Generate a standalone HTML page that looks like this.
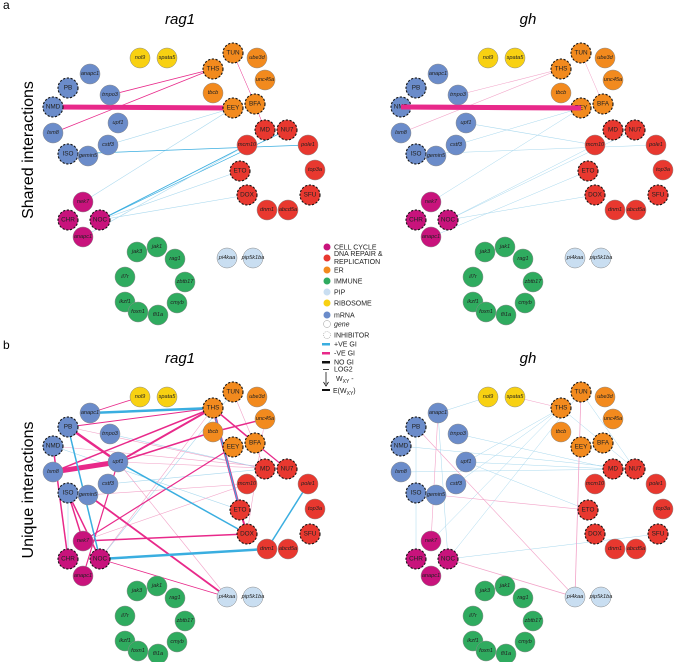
<!DOCTYPE html>
<html><head><meta charset="utf-8"><style>
html,body{margin:0;padding:0;background:#fff}
svg{display:block;font-family:"Liberation Sans",sans-serif}
.n circle{stroke:#8a8a8a;stroke-width:0.5}
.n .i{stroke:#111;stroke-width:1.1;stroke-dasharray:2.2 1.6}
.n text{font-size:5.6px;text-anchor:middle;dominant-baseline:central;fill:#222;font-style:italic}
.n text.u{font-style:normal;font-size:6.4px}
.C{fill:#c8137c}.R{fill:#e8382f}.O{fill:#f28a1e}.G{fill:#2fab5f}.P{fill:#c9def1}.Y{fill:#f8d112}.B{fill:#6b8cca}
.lg text{font-size:7px;fill:#222}
.pk{stroke:#e8298a;fill:none}.bl{stroke:#3aaee0;fill:none}.lp{stroke:#f2a3c8;fill:none}.lb{stroke:#a8d8ee;fill:none}
</style></head><body>
<svg width="674" height="662" viewBox="0 0 674 662">
<defs>
<g id="nodes" class="n">
<circle class="Y" cx="140" cy="58" r="10"/><text x="140" y="58">nol9</text>
<circle class="Y" cx="167" cy="58" r="10"/><text x="167" y="58">spata5</text>
<circle class="O i" cx="233" cy="53" r="10"/><text class="u" x="233" y="53">TUN</text>
<circle class="O" cx="257" cy="58" r="10"/><text x="257" y="58">ube3d</text>
<circle class="O i" cx="213" cy="69" r="10"/><text class="u" x="213" y="69">THS</text>
<circle class="O" cx="265" cy="80" r="10"/><text x="265" y="80">unc45a</text>
<circle class="O" cx="213" cy="93" r="10"/><text x="213" y="93">tbcb</text>
<circle class="O i" cx="255" cy="104" r="10"/><text class="u" x="255" y="104">BFA</text>
<circle class="O i" cx="233" cy="108" r="10"/><text class="u" x="233" y="108">EEY</text>
<circle class="B i" cx="68" cy="88" r="10"/><text class="u" x="68" y="88">PB</text>
<circle class="B" cx="90" cy="74" r="10"/><text x="90" y="74">anapc1</text>
<circle class="B" cx="110" cy="95" r="10"/><text x="110" y="95">trnpo3</text>
<circle class="B i" cx="53" cy="107" r="10"/><text class="u" x="53" y="107">NMD</text>
<circle class="B" cx="118" cy="123" r="10"/><text x="118" y="123">upf1</text>
<circle class="B" cx="53" cy="133" r="10"/><text x="53" y="133">lsm8</text>
<circle class="B" cx="108" cy="145" r="10"/><text x="108" y="145">cstf3</text>
<circle class="B i" cx="68" cy="154" r="10"/><text class="u" x="68" y="154">ISO</text>
<circle class="B" cx="88" cy="156" r="10"/><text x="88" y="156">gemin5</text>
<circle class="R i" cx="265" cy="130" r="10"/><text class="u" x="265" y="130">MD</text>
<circle class="R i" cx="287" cy="130" r="10"/><text class="u" x="287" y="130">NU7</text>
<circle class="R" cx="247" cy="145" r="10"/><text x="247" y="145">mcm10</text>
<circle class="R" cx="308" cy="145" r="10"/><text x="308" y="145">pole1</text>
<circle class="R i" cx="240" cy="171" r="10"/><text class="u" x="240" y="171">ETO</text>
<circle class="R" cx="315" cy="170" r="10"/><text x="315" y="170">top3a</text>
<circle class="R i" cx="247" cy="195" r="10"/><text class="u" x="247" y="195">DOX</text>
<circle class="R i" cx="310" cy="195" r="10"/><text class="u" x="310" y="195">SFU</text>
<circle class="R" cx="267" cy="210" r="10"/><text x="267" y="210">dnm1</text>
<circle class="R" cx="288" cy="210" r="10"/><text x="288" y="210">abcd5a</text>
<circle class="C" cx="83" cy="202" r="10"/><text x="83" y="202">nek7</text>
<circle class="C i" cx="68" cy="220" r="10"/><text class="u" x="68" y="220">CHR</text>
<circle class="C i" cx="100" cy="220" r="10"/><text class="u" x="100" y="220">NOC</text>
<circle class="C" cx="83" cy="237" r="10"/><text x="83" y="237">anapc1</text>
<circle class="G" cx="137" cy="252" r="10"/><text x="137" y="252">jak3</text>
<circle class="G" cx="157" cy="247" r="10"/><text x="157" y="247">jak1</text>
<circle class="G" cx="175" cy="259" r="10"/><text x="175" y="259">rag1</text>
<circle class="G" cx="125" cy="277" r="10"/><text x="125" y="277">il7r</text>
<circle class="G" cx="185" cy="282" r="10"/><text x="185" y="282">zbtb17</text>
<circle class="G" cx="125" cy="302" r="10"/><text x="125" y="302">ikzf1</text>
<circle class="G" cx="177" cy="303" r="10"/><text x="177" y="303">cmyb</text>
<circle class="G" cx="138" cy="312" r="10"/><text x="138" y="312">foxn1</text>
<circle class="G" cx="158" cy="315" r="10"/><text x="158" y="315">fli1a</text>
<circle class="P" cx="227" cy="258" r="10"/><text x="227" y="258">pi4kaa</text>
<circle class="P" cx="253" cy="258" r="10"/><text x="253" y="258">pip5k1ba</text>
</g>
<g id="shared">
<line class="pk" x1="53" y1="107" x2="233" y2="108" stroke-width="5"/>
<line class="pk" x1="110" y1="95" x2="213" y2="69" stroke-width="0.8"/>
<line class="pk" x1="53" y1="133" x2="213" y2="69" stroke-width="0.8"/>
<line class="pk" x1="233" y1="53" x2="255" y2="104" stroke-width="0.5"/>
<line class="pk" x1="255" y1="104" x2="265" y2="130" stroke-width="0.5"/>
<line class="lb" x1="108" y1="145" x2="233" y2="108" stroke-width="0.6"/>
<line class="lb" x1="83" y1="202" x2="233" y2="108" stroke-width="0.6"/>
<line class="bl" x1="68" y1="154" x2="308" y2="145" stroke-width="0.7"/>
<line class="bl" x1="100" y1="220" x2="247" y2="145" stroke-width="0.9"/>
<line class="bl" x1="100" y1="220" x2="287" y2="130" stroke-width="0.7"/>
<line class="lb" x1="83" y1="237" x2="247" y2="145" stroke-width="0.6"/>
<line class="lb" x1="100" y1="220" x2="247" y2="195" stroke-width="0.6"/>
<line class="lb" x1="100" y1="220" x2="240" y2="171" stroke-width="0.6"/>
</g>
</defs>

<text x="3" y="9" font-size="12">a</text>
<text x="3" y="349" font-size="12">b</text>
<text x="180" y="24" font-size="15" font-style="italic" text-anchor="middle">rag1</text>
<text x="528" y="24" font-size="15" font-style="italic" text-anchor="middle">gh</text>
<text x="180" y="363" font-size="15" font-style="italic" text-anchor="middle">rag1</text>
<text x="528" y="363" font-size="15" font-style="italic" text-anchor="middle">gh</text>
<text transform="translate(33,150) rotate(-90)" font-size="16" text-anchor="middle">Shared interactions</text>
<text transform="translate(33,490) rotate(-90)" font-size="16" text-anchor="middle">Unique interactions</text>

<!-- a left -->
<g><use href="#shared"/><use href="#nodes"/></g>
<!-- a right -->
<g transform="translate(348,0)"><g opacity="0.55"><line class="pk" x1="53" y1="107" x2="233" y2="108" stroke-width="5"/></g>
<line class="lp" x1="110" y1="95" x2="213" y2="69" stroke-width="0.6"/>
<line class="lp" x1="53" y1="133" x2="213" y2="69" stroke-width="0.6"/>
<line class="lp" x1="233" y1="53" x2="255" y2="104" stroke-width="0.5"/>
<line class="lb" x1="118" y1="123" x2="247" y2="145" stroke-width="0.6"/>
<line class="lb" x1="108" y1="145" x2="233" y2="108" stroke-width="0.5"/>
<line class="lb" x1="83" y1="202" x2="233" y2="108" stroke-width="0.5"/>
<line class="lb" x1="68" y1="154" x2="308" y2="145" stroke-width="0.5"/>
<line class="lb" x1="100" y1="220" x2="247" y2="145" stroke-width="0.5"/>
<line class="lb" x1="100" y1="220" x2="287" y2="130" stroke-width="0.5"/>
<line class="lb" x1="100" y1="220" x2="247" y2="195" stroke-width="0.5"/>
<line class="lb" x1="83" y1="237" x2="240" y2="171" stroke-width="0.5"/>
<use href="#nodes"/></g>
<line class="pk" x1="401" y1="107" x2="581" y2="108" stroke-width="5"/>

<!-- b left -->
<g transform="translate(0,339)">
<g>
<line class="lp" x1="68" y1="88" x2="265" y2="130" stroke-width="0.6"/>
<line class="lp" x1="53" y1="107" x2="287" y2="130" stroke-width="0.6"/>
<line class="lb" x1="110" y1="95" x2="265" y2="130" stroke-width="0.6"/>
<line class="lb" x1="53" y1="107" x2="240" y2="171" stroke-width="0.6"/>
<line class="lp" x1="118" y1="123" x2="287" y2="130" stroke-width="0.6"/>
<line class="lb" x1="108" y1="145" x2="265" y2="130" stroke-width="0.6"/>
<line class="lp" x1="88" y1="156" x2="247" y2="145" stroke-width="0.6"/>
<line class="lb" x1="68" y1="154" x2="68" y2="220" stroke-width="0.6"/>
<line class="lp" x1="100" y1="220" x2="213" y2="69" stroke-width="0.6"/>
<line class="lb" x1="100" y1="220" x2="233" y2="53" stroke-width="0.6"/>
<line class="lp" x1="118" y1="123" x2="227" y2="258" stroke-width="0.6"/>
<line class="lp" x1="83" y1="202" x2="247" y2="145" stroke-width="0.6"/>
<line class="lb" x1="213" y1="69" x2="287" y2="130" stroke-width="0.6"/>
<line class="lp" x1="233" y1="53" x2="265" y2="130" stroke-width="0.6"/>
<line class="lp" x1="265" y1="80" x2="247" y2="195" stroke-width="0.6"/>
<line class="pk" x1="53" y1="133" x2="118" y2="123" stroke-width="5"/>
<line class="pk" x1="68" y1="88" x2="118" y2="123" stroke-width="2.5"/>
<line class="pk" x1="118" y1="123" x2="213" y2="69" stroke-width="2"/>
<line class="pk" x1="118" y1="123" x2="213" y2="93" stroke-width="1.5"/>
<line class="pk" x1="53" y1="133" x2="213" y2="69" stroke-width="1.5"/>
<line class="pk" x1="53" y1="107" x2="68" y2="220" stroke-width="1.5"/>
<line class="pk" x1="68" y1="154" x2="83" y2="202" stroke-width="1.5"/>
<line class="pk" x1="68" y1="154" x2="100" y2="220" stroke-width="1.5"/>
<line class="pk" x1="88" y1="156" x2="227" y2="258" stroke-width="1.8"/>
<line class="pk" x1="83" y1="202" x2="247" y2="195" stroke-width="1.5"/>
<line class="pk" x1="213" y1="69" x2="240" y2="171" stroke-width="2.5"/>
<line class="pk" x1="213" y1="69" x2="255" y2="104" stroke-width="1.5"/>
<line class="pk" x1="255" y1="104" x2="287" y2="130" stroke-width="1.2"/>
<line class="pk" x1="213" y1="93" x2="265" y2="80" stroke-width="1.5"/>
<line class="pk" x1="90" y1="74" x2="140" y2="58" stroke-width="0.8"/>
<line class="pk" x1="83" y1="202" x2="233" y2="108" stroke-width="1.2"/>
<line class="pk" x1="83" y1="237" x2="118" y2="123" stroke-width="1.2"/>
<line class="pk" x1="100" y1="220" x2="227" y2="258" stroke-width="0.8"/>
<line class="pk" x1="240" y1="171" x2="247" y2="195" stroke-width="2"/>
<line class="pk" x1="68" y1="88" x2="213" y2="69" stroke-width="1"/>
<line class="bl" x1="90" y1="74" x2="213" y2="69" stroke-width="2.5"/>
<line class="bl" x1="68" y1="88" x2="100" y2="220" stroke-width="1.5"/>
<line class="bl" x1="118" y1="123" x2="247" y2="195" stroke-width="1.5"/>
<line class="bl" x1="100" y1="220" x2="267" y2="210" stroke-width="2.5"/>
<line class="bl" x1="267" y1="210" x2="308" y2="145" stroke-width="1.5"/>
<line class="bl" x1="213" y1="69" x2="240" y2="171" stroke-width="1.2"/>
</g>
<use href="#nodes"/></g>

<!-- b right -->
<g transform="translate(348,339)">
<line class="lb" x1="90" y1="74" x2="140" y2="58" stroke-width="0.5"/>
<line class="lb" x1="110" y1="95" x2="265" y2="130" stroke-width="0.5"/>
<line class="lb" x1="53" y1="107" x2="287" y2="130" stroke-width="0.5"/>
<line class="lb" x1="118" y1="123" x2="213" y2="69" stroke-width="0.5"/>
<line class="lb" x1="118" y1="123" x2="265" y2="130" stroke-width="0.5"/>
<line class="lb" x1="53" y1="133" x2="287" y2="130" stroke-width="0.5"/>
<line class="lb" x1="108" y1="145" x2="213" y2="69" stroke-width="0.5"/>
<line class="lb" x1="68" y1="88" x2="68" y2="220" stroke-width="0.5"/>
<line class="lb" x1="90" y1="74" x2="100" y2="220" stroke-width="0.5"/>
<line class="lb" x1="100" y1="220" x2="233" y2="53" stroke-width="0.5"/>
<line class="lb" x1="83" y1="202" x2="213" y2="69" stroke-width="0.5"/>
<line class="lb" x1="100" y1="220" x2="310" y2="195" stroke-width="0.5"/>
<line class="lb" x1="118" y1="123" x2="240" y2="171" stroke-width="0.5"/>
<line class="lb" x1="213" y1="69" x2="287" y2="130" stroke-width="0.5"/>
<line class="lb" x1="233" y1="53" x2="287" y2="130" stroke-width="0.5"/>
<line class="lp" x1="68" y1="88" x2="227" y2="258" stroke-width="0.6"/>
<line class="lp" x1="88" y1="156" x2="240" y2="171" stroke-width="0.6"/>
<line class="lp" x1="100" y1="220" x2="227" y2="258" stroke-width="0.8"/>
<line class="lp" x1="233" y1="53" x2="227" y2="258" stroke-width="0.8"/>
<line class="lp" x1="167" y1="58" x2="213" y2="69" stroke-width="0.6"/>
<line class="lp" x1="90" y1="74" x2="83" y2="202" stroke-width="0.6"/>
<use href="#nodes"/></g>

<!-- legend -->
<g class="lg">
<circle cx="327" cy="247" r="3.5" class="C"/><text x="334" y="249.5">CELL CYCLE</text>
<circle cx="327" cy="258" r="3.5" class="R"/><text x="334" y="256">DNA REPAIR &amp;</text><text x="334" y="264">REPLICATION</text>
<circle cx="327" cy="270" r="3.5" class="O"/><text x="334" y="272.5">ER</text>
<circle cx="327" cy="281" r="3.5" class="G"/><text x="334" y="283.5">IMMUNE</text>
<circle cx="327" cy="292" r="3.5" class="P"/><text x="334" y="294.5">PIP</text>
<circle cx="327" cy="303" r="3.5" class="Y"/><text x="334" y="305.5">RIBOSOME</text>
<circle cx="327" cy="315" r="3.5" class="B"/><text x="334" y="317.5">mRNA</text>
<circle cx="327" cy="324" r="3.5" fill="none" stroke="#999" stroke-width="0.5"/><text x="334" y="326.5" font-style="italic">gene</text>
<circle cx="327" cy="335" r="3.5" fill="none" stroke="#999" stroke-width="0.6" stroke-dasharray="1 1"/><text x="334" y="337.5">INHIBITOR</text>
<rect x="322" y="343" width="8" height="2.5" fill="#3aaee0"/><text x="334" y="346.5">+VE GI</text>
<rect x="322" y="352" width="8" height="2.5" fill="#e8298a"/><text x="334" y="355.5">-VE GI</text>
<rect x="322" y="361" width="8" height="2.5" fill="#111"/><text x="334" y="364.5">NO GI</text>
<rect x="323" y="369" width="6" height="0.8" fill="#111"/><text x="334" y="371.5">LOG2</text>
<line x1="326" y1="372" x2="326" y2="384" stroke="#111" stroke-width="0.8"/><path d="M323.5,382 L326,386 L328.5,382" fill="none" stroke="#111" stroke-width="0.8"/>
<text x="336" y="381" font-size="9">W<tspan font-size="5" dy="2">XY</tspan><tspan dy="-2"> -</tspan></text>
<rect x="322" y="389" width="8" height="2" fill="#111"/><text x="333" y="393" font-size="9">E(W<tspan font-size="5" dy="2">XY</tspan><tspan dy="-2">)</tspan></text>
</g>
</svg>
</body></html>
